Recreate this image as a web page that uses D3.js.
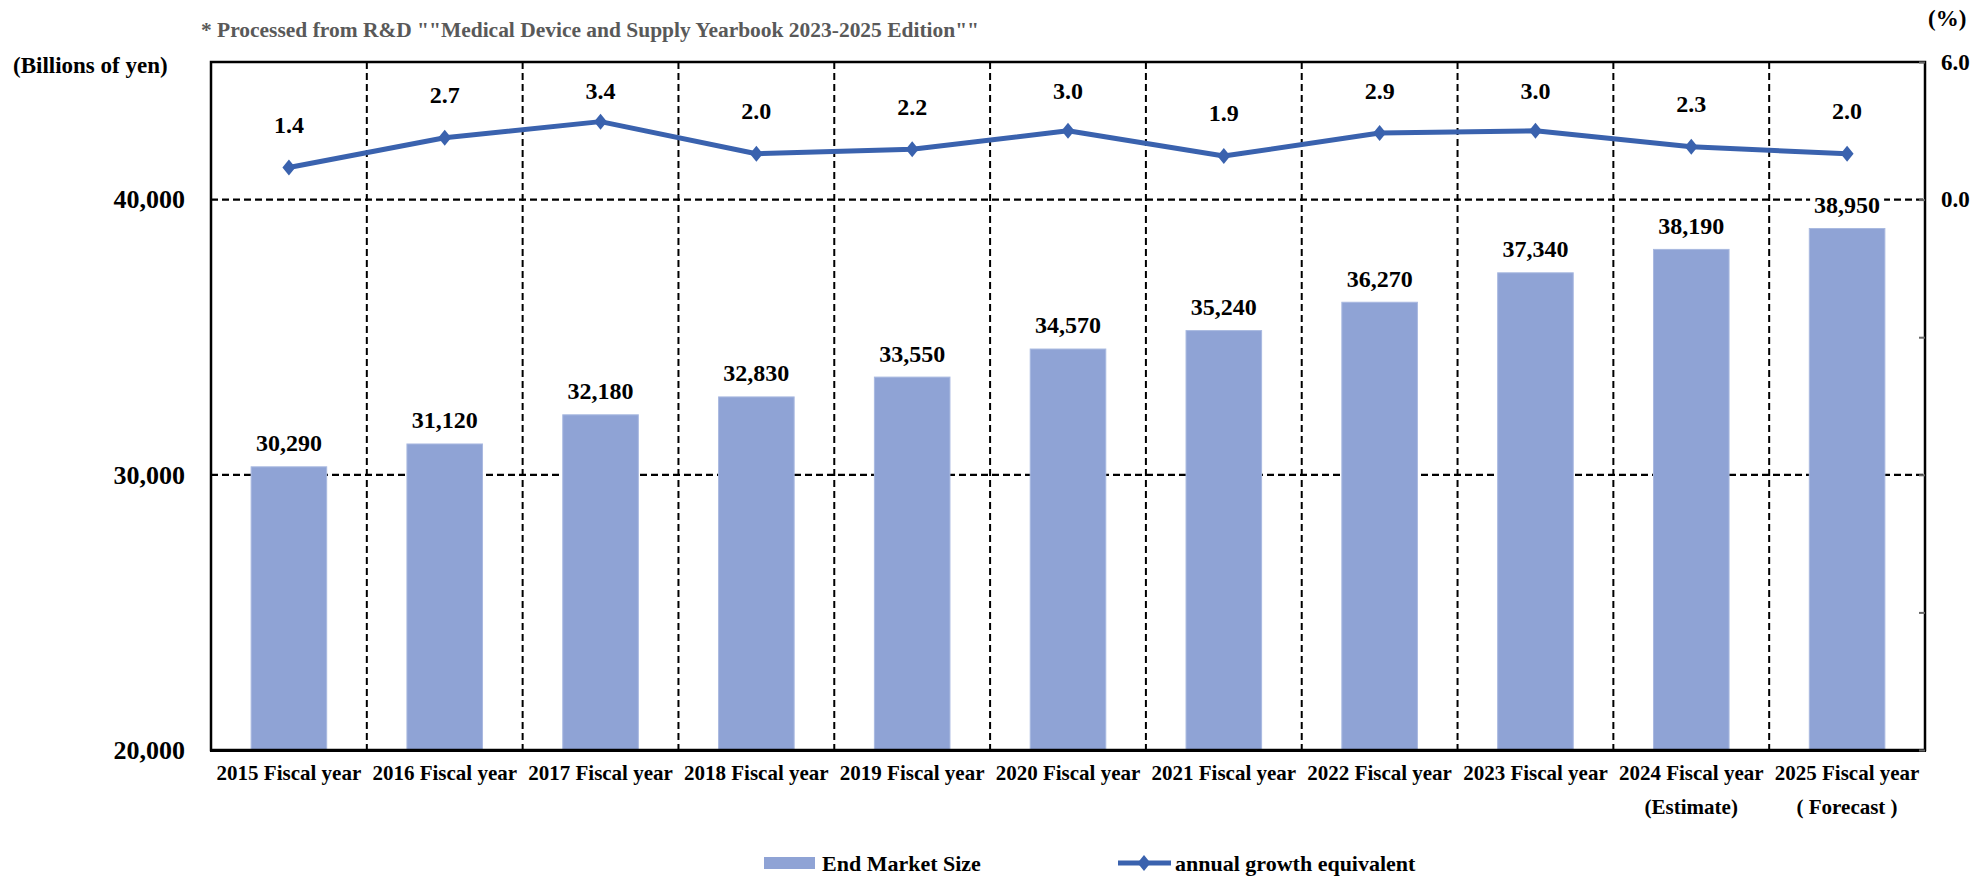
<!DOCTYPE html>
<html>
<head>
<meta charset="utf-8">
<script src="https://cdn.jsdelivr.net/npm/d3@7"></script>
<style>
  body { margin: 0; background: #fff; }
  text { font-family: "Liberation Serif", "Times New Roman", serif; font-weight: bold; }
</style>
</head>
<body>
<svg id="chart" width="1975" height="876"></svg>
<script>
// data
let years = ["2015", "2016", "2017", "2018", "2019", "2020", "2021", "2022", "2023", "2024", "2025"];
let subLabels = ["", "", "", "", "", "", "", "", "", "(Estimate)", "( Forecast )"];
let marketSize = [30290, 31120, 32180, 32830, 33550, 34570, 35240, 36270, 37340, 38190, 38950];
let growth = [1.4, 2.7, 3.4, 2.0, 2.2, 3.0, 1.9, 2.9, 3.0, 2.3, 2.0];
let leftTicks = [20000, 30000, 40000];
let rightTicks = [6, 0, -6, -12, -18, -24];

const barColor = "#8FA3D5";
const lineColor = "#3A62AE";

const svg = d3.select("svg#chart");
const plotL = 211, plotR = 1925, plotT = 62, plotB = 750;

const x = d3.scaleBand().domain(years).range([plotL, plotR]).padding(0);
const y = d3.scaleLinear().domain([20000, 45000]).range([plotB, plotT]);
const y2 = d3.scaleLinear().domain([-24, 6]).range([plotB, plotT]);

// grid lines
svg.append("g").selectAll("line")
  .data([30000, 40000])
  .join("line")
  .attr("x1", plotL).attr("x2", plotR)
  .attr("y1", d => y(d)).attr("y2", d => y(d))
  .attr("stroke", "#000").attr("stroke-width", 2.2)
  .attr("stroke-dasharray", "7,4");

svg.append("g").selectAll("line")
  .data(years.slice(1))
  .join("line")
  .attr("x1", d => x(d)).attr("x2", d => x(d))
  .attr("y1", plotT).attr("y2", plotB)
  .attr("stroke", "#000").attr("stroke-width", 2)
  .attr("stroke-dasharray", "7,4");

// bars
const bw = x.bandwidth() * 0.485;
svg.append("g").selectAll("rect")
  .data(marketSize)
  .join("rect")
  .attr("x", (d, i) => x(years[i]) + (x.bandwidth() - bw) / 2)
  .attr("y", d => y(d))
  .attr("width", bw)
  .attr("height", d => plotB - y(d))
  .attr("fill", barColor)
  .attr("stroke", "#a9b9e0")
  .attr("stroke-width", 1);

// bar labels with white boxes
const barLab = svg.append("g");
marketSize.forEach(function (v, i) {
  let cx = x(years[i]) + x.bandwidth() / 2;
  let cy = y(v) - 24;
  let t = barLab.append("text")
    .attr("x", cx).attr("y", cy)
    .attr("dy", "0.35em")
    .attr("text-anchor", "middle")
    .attr("font-size", 24)
    .text(d3.format(",")(v));
  let bb = t.node().getBBox();
  barLab.insert("rect", "text")
    .attr("x", bb.x - 4).attr("y", bb.y + 2)
    .attr("width", bb.width + 8).attr("height", bb.height - 2)
    .attr("fill", "#fff");
});

// growth line
const line = d3.line()
  .x((d, i) => x(years[i]) + x.bandwidth() / 2)
  .y(d => y2(d));

svg.append("path")
  .datum(growth)
  .attr("d", line)
  .attr("fill", "none")
  .attr("stroke", lineColor)
  .attr("stroke-width", 5)
  .attr("stroke-linejoin", "round");

const diamond = "M0,-8L6.5,0L0,8L-6.5,0Z";
svg.append("g").selectAll("path")
  .data(growth)
  .join("path")
  .attr("d", diamond)
  .attr("transform", (d, i) => "translate(" + (x(years[i]) + x.bandwidth() / 2) + "," + y2(d) + ")")
  .attr("fill", lineColor);

svg.append("g").selectAll("text")
  .data(growth)
  .join("text")
  .attr("x", (d, i) => x(years[i]) + x.bandwidth() / 2)
  .attr("y", d => Math.max(y2(d) - 43, 91))
  .attr("dy", "0.35em")
  .attr("text-anchor", "middle")
  .attr("font-size", 24)
  .text(d => d3.format(".1f")(d));

// plot border
svg.append("rect")
  .attr("x", plotL).attr("y", plotT)
  .attr("width", plotR - plotL).attr("height", plotB - plotT)
  .attr("fill", "none")
  .attr("stroke", "#000").attr("stroke-width", 2.5);
svg.append("line")
  .attr("x1", plotL - 1).attr("x2", plotR + 1)
  .attr("y1", plotB + 0.5).attr("y2", plotB + 0.5)
  .attr("stroke", "#000").attr("stroke-width", 3);

// left axis
const yAxis = svg.append("g")
  .attr("transform", "translate(" + plotL + ",0)")
  .call(d3.axisLeft(y).tickValues(leftTicks).tickSize(0).tickPadding(26).tickFormat(d3.format(",")));
yAxis.select(".domain").remove();
yAxis.selectAll("text")
  .attr("font-size", 26)
  .attr("fill", "#000")
  .style("font-family", "Liberation Serif, serif");

// right axis
const y2Axis = svg.append("g")
  .attr("transform", "translate(" + plotR + ",0)")
  .call(d3.axisRight(y2).tickValues(rightTicks).tickSizeInner(-6).tickSizeOuter(0).tickPadding(16)
    .tickFormat(d => d >= 0 ? d3.format(".1f")(d) : ""));
y2Axis.select(".domain").remove();
y2Axis.selectAll("line").attr("stroke", "#666").attr("stroke-width", 2);
y2Axis.selectAll("text")
  .attr("font-size", 23)
  .attr("fill", "#000")
  .style("font-family", "Liberation Serif, serif");

// x labels
const xl = svg.append("g");
years.forEach(function (yr, i) {
  let cx = x(yr) + x.bandwidth() / 2;
  xl.append("text")
    .attr("x", cx).attr("y", 780)
    .attr("text-anchor", "middle")
    .attr("font-size", 21)
    .text(yr + " Fiscal year");
  if (subLabels[i] != "") {
    xl.append("text")
      .attr("x", cx).attr("y", 814)
      .attr("text-anchor", "middle")
      .attr("font-size", 21)
      .text(subLabels[i]);
  }
});

// titles
svg.append("text")
  .attr("x", 201).attr("y", 37)
  .attr("font-size", 20)
  .attr("fill", "#595959")
  .attr("textLength", 778)
  .attr("lengthAdjust", "spacingAndGlyphs")
  .text('* Processed from R&D ""Medical Device and Supply Yearbook 2023-2025 Edition""');

svg.append("text")
  .attr("x", 13).attr("y", 73)
  .attr("font-size", 23)
  .text("(Billions of yen)");

svg.append("text")
  .attr("x", 1928).attr("y", 26)
  .attr("font-size", 23)
  .text("(%)");

// legend
const lg = svg.append("g");
lg.append("rect")
  .attr("x", 764).attr("y", 857).attr("width", 51).attr("height", 12)
  .attr("fill", barColor);
lg.append("text")
  .attr("x", 822).attr("y", 871)
  .attr("font-size", 22)
  .text("End Market Size");
lg.append("line")
  .attr("x1", 1118).attr("x2", 1171).attr("y1", 863).attr("y2", 863)
  .attr("stroke", lineColor).attr("stroke-width", 5);
lg.append("path")
  .attr("d", diamond)
  .attr("transform", "translate(1144,863)")
  .attr("fill", lineColor);
lg.append("text")
  .attr("x", 1175).attr("y", 871)
  .attr("font-size", 22)
  .text("annual growth equivalent");
</script>
</body>
</html>
